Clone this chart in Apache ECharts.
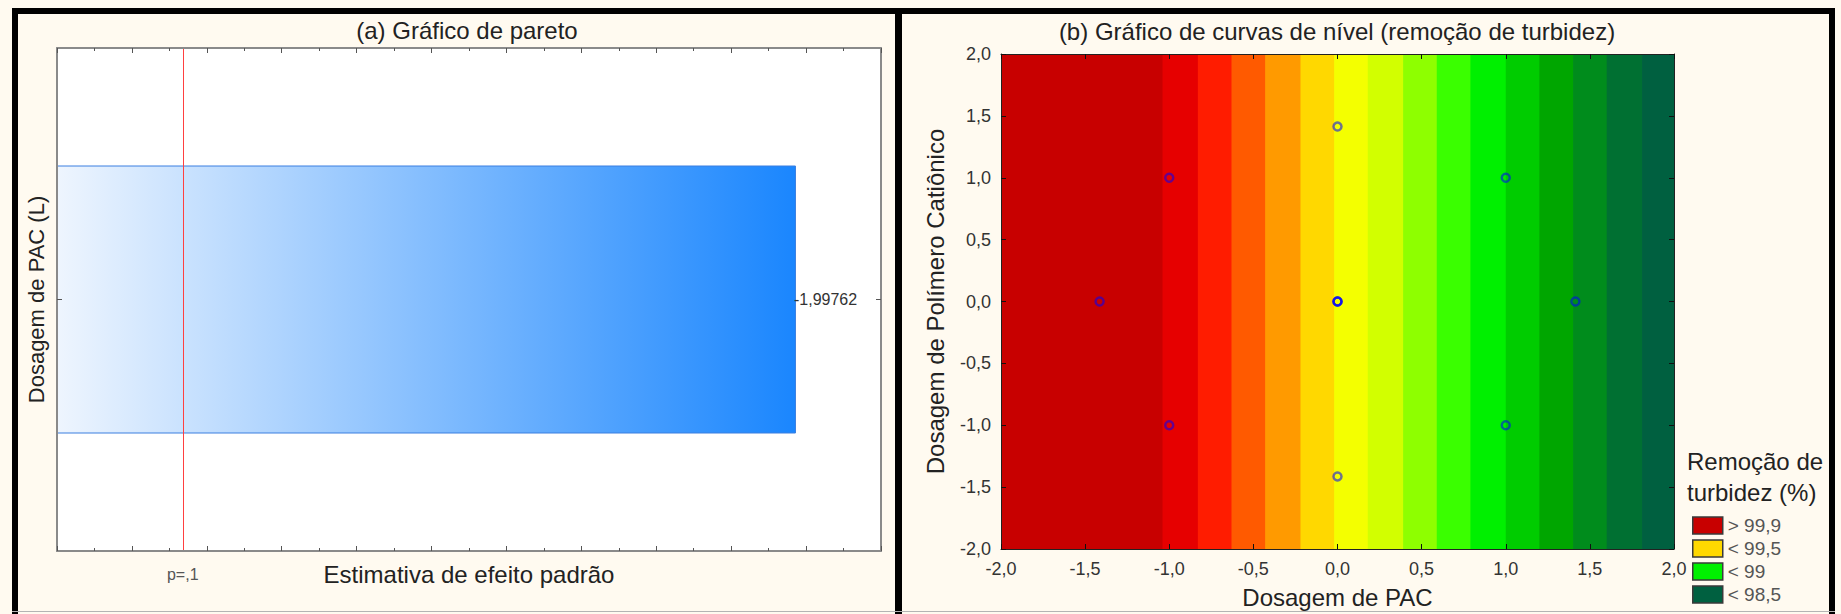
<!DOCTYPE html>
<html>
<head>
<meta charset="utf-8">
<script src="https://cdn.jsdelivr.net/npm/echarts@6/dist/echarts.min.js"></script>
<style>
  html, body { margin: 0; padding: 0; background: #fffaf0; }
  #chart { width: 1841px; height: 614px; }
</style>
</head>
<body>
<div id="chart"></div>
<script>
// ---- (a) Pareto chart of standardized effects ----
const effectNames = ['Dosagem de PAC (L)'];
const effectValues = [-1.99762];          // signed effect estimate (bar length = |effect|)
const pCritical = 0.3375;                  // p = 0.1 reference line
const paretoAxisMax = 2.2275;
const paretoAxisStep = 0.2025;

// ---- (b) contour plot of turbidity removal ----
const bandEdges = [-2.0, -1.04, -0.83, -0.63, -0.43, -0.22, -0.02, 0.18, 0.39, 0.59, 0.79, 1.00, 1.20, 1.40, 1.60, 1.81, 2.0];
const bandLevels = ['> 99,9', '< 99,9', '< 99,8', '< 99,7', '< 99,6', '< 99,5', '< 99,4', '< 99,3',
                    '< 99,2', '< 99,1', '< 99', '< 98,9', '< 98,8', '< 98,7', '< 98,6', '< 98,5'];
const bandColors = ['#c80000', '#e60000', '#ff1c00', '#ff5a00', '#ff9a00', '#ffd800', '#f4ff00', '#d2ff00',
                    '#8eff00', '#3aff00', '#00f000', '#00cc00', '#00a600', '#008c1c', '#007032', '#006040'];
const legendLevels = ['> 99,9', '< 99,5', '< 99', '< 98,5'];
const designPAC     = [-1, 1, -1, 1, -1.414, 1.414, 0, 0, 0, 0, 0];
const designPolymer = [-1, -1, 1, 1, 0, 0, -1.414, 1.414, 0, 0, 0];
const contourMin = -2, contourMax = 2, contourStep = 0.5;

const FONT = "'Liberation Sans', Arial, sans-serif";
const comma = (v, d) => v.toFixed(d).replace('.', ',');

const bandData = bandColors.map((c, i) => [bandEdges[i], bandEdges[i + 1], contourMin, contourMax]);
const pointData = designPAC.map((x, i) => [x, designPolymer[i]]);

const paretoX = (pos, extra) => Object.assign({
  type: 'value', gridIndex: 0, position: pos,
  min: 0, max: paretoAxisMax, interval: paretoAxisStep,
  axisLine: { show: true, onZero: false, lineStyle: { color: '#8a8a8a', width: 2 } },
  axisTick: { show: true, inside: true, length: 5, lineStyle: { color: '#555' } },
  minorTick: { show: true, splitNumber: 2, length: 3, lineStyle: { color: '#555' } },
  axisLabel: { show: false },
  splitLine: { show: false },
  z: 6
}, extra || {});

const paretoY = (pos, extra) => Object.assign({
  type: 'category', gridIndex: 0, position: pos, data: effectNames,
  axisLine: { show: true, onZero: false, lineStyle: { color: '#8a8a8a', width: 2 } },
  axisTick: { show: true, inside: true, alignWithLabel: true, length: 5, lineStyle: { color: '#555' } },
  axisLabel: { show: false },
  splitLine: { show: false },
  z: 6
}, extra || {});

const contourX = (pos, extra) => Object.assign({
  type: 'value', gridIndex: 1, position: pos,
  min: contourMin, max: contourMax, interval: contourStep,
  axisLine: { show: true, onZero: false, lineStyle: { color: '#222', width: 1 } },
  axisTick: { show: true, inside: true, length: 5, lineStyle: { color: '#111' } },
  axisLabel: { show: false },
  splitLine: { show: false },
  z: 6
}, extra || {});

const contourY = (pos, extra) => Object.assign({
  type: 'value', gridIndex: 1, position: pos,
  min: contourMin, max: contourMax, interval: contourStep,
  axisLine: { show: true, onZero: false, lineStyle: { color: '#222', width: 1 } },
  axisTick: { show: true, inside: true, length: 5, lineStyle: { color: '#111' } },
  axisLabel: { show: false },
  splitLine: { show: false },
  z: 6
}, extra || {});

const tickLabel = {
  show: true, fontFamily: FONT, fontSize: 18, color: '#333',
  formatter: v => comma(v, 1)
};

const option = {
  backgroundColor: '#fffaf0',
  animation: false,
  textStyle: { fontFamily: FONT },
  grid: [
    { left: 57, top: 48, width: 824, height: 503, show: true, backgroundColor: '#ffffff', borderWidth: 0 },
    { left: 1001, top: 54, width: 673, height: 497, show: false }
  ],
  xAxis: [
    paretoX('bottom', {
      name: 'Estimativa de efeito padrão', nameLocation: 'middle', nameGap: 11,
      nameTextStyle: { fontFamily: FONT, fontSize: 24, color: '#222' }
    }),
    paretoX('top'),
    contourX('bottom', {
      axisLabel: Object.assign({ margin: 11 }, tickLabel),
      name: 'Dosagem de PAC', nameLocation: 'middle', nameGap: 36,
      nameTextStyle: { fontFamily: FONT, fontSize: 24, color: '#222' }
    }),
    contourX('top')
  ],
  yAxis: [
    paretoY('left', {
      axisLabel: { show: true, rotate: 90, margin: 10, fontFamily: FONT, fontSize: 22, color: '#222' }
    }),
    paretoY('right'),
    contourY('left', {
      axisLabel: Object.assign({ margin: 10 }, tickLabel),
      name: 'Dosagem de Polímero Catiônico', nameLocation: 'middle', nameGap: 54, nameRotate: 90,
      nameTextStyle: { fontFamily: FONT, fontSize: 24, color: '#222' }
    }),
    contourY('right')
  ],
  legend: {
    orient: 'vertical', left: 1692, top: 516, padding: 0,
    itemWidth: 30, itemHeight: 17, itemGap: 4,
    icon: 'rect',
    selectedMode: false,
    itemStyle: { borderColor: '#3a3a3a', borderWidth: 1.5, opacity: 1 },
    textStyle: { fontFamily: FONT, fontSize: 19, lineHeight: 17, color: '#555' },
    data: legendLevels
  },
  graphic: [
    { type: 'rect', silent: true, z: 100,
      shape: { x: 15, y: 11, width: 1817, height: 640 },
      style: { fill: 'none', stroke: '#000', lineWidth: 6 } },
    { type: 'rect', silent: true, z: 100,
      shape: { x: 895, y: 8, width: 7, height: 610 },
      style: { fill: '#000' } },
    { type: 'rect', silent: true, z: 101,
      shape: { x: 12, y: 611, width: 1823, height: 1 },
      style: { fill: '#b4b4b4' } },
    { type: 'text', silent: true, z: 100,
      style: { text: '(a) Gráfico de pareto', x: 467, y: 30, font: '24px ' + FONT, fill: '#222',
               align: 'center', verticalAlign: 'middle', textAlign: 'center', textVerticalAlign: 'middle' } },
    { type: 'text', silent: true, z: 100,
      style: { text: '(b) Gráfico de curvas de nível (remoção de turbidez)', x: 1337, y: 31, font: '24px ' + FONT, fill: '#222',
               align: 'center', verticalAlign: 'middle', textAlign: 'center', textVerticalAlign: 'middle' } },
    { type: 'text', silent: true, z: 100,
      style: { text: 'Remoção de\nturbidez (%)', x: 1687, y: 446, font: '24px ' + FONT, fill: '#222',
               lineHeight: 31, align: 'left', verticalAlign: 'top', textAlign: 'left', textVerticalAlign: 'top' } }
  ],
  series: [
    {
      name: 'Efeito', type: 'bar', xAxisIndex: 0, yAxisIndex: 0, z: 3,
      barWidth: 268,
      data: effectValues.map(Math.abs),
      itemStyle: {
        color: new echarts.graphic.LinearGradient(0, 0, 1, 0, [
          { offset: 0, color: '#eef5fe' },
          { offset: 1, color: '#1a86fe' }
        ]),
        borderColor: '#3b7fe0', borderWidth: 1
      },
      label: {
        show: true, position: 'right', distance: -2,
        fontFamily: FONT, fontSize: 16, color: '#333',
        formatter: p => comma(effectValues[p.dataIndex], 5)
      },
      markLine: {
        silent: true, symbol: 'none', animation: false,
        lineStyle: { color: '#ff4040', width: 1, type: 'solid' },
        label: { show: true, position: 'start', distance: 15, formatter: 'p=,1',
                 fontFamily: FONT, fontSize: 16, color: '#555' },
        emphasis: { disabled: true },
        data: [{ xAxis: pCritical }]
      }
    },
    {
      name: 'bands', type: 'custom', xAxisIndex: 2, yAxisIndex: 2, z: 1, silent: true,
      encode: { x: [0, 1], y: [2, 3] },
      data: bandData,
      renderItem: (params, api) => {
        const p0 = api.coord([api.value(0), api.value(3)]);
        const p1 = api.coord([api.value(1), api.value(2)]);
        const last = params.dataIndex === bandData.length - 1;
        return {
          type: 'rect',
          shape: { x: p0[0], y: p0[1], width: p1[0] - p0[0] + (last ? 0 : 0.8), height: p1[1] - p0[1] },
          style: { fill: bandColors[params.dataIndex] }
        };
      }
    },
    {
      name: 'Ensaios', type: 'scatter', xAxisIndex: 2, yAxisIndex: 2, z: 4, silent: true,
      symbol: 'circle', symbolSize: 8,
      data: pointData,
      itemStyle: { color: 'rgba(0,0,0,0)', borderColor: 'rgba(0,0,255,0.55)', borderWidth: 2.5, opacity: 1 }
    },
    ...legendLevels.map(lv => ({
      name: lv, type: 'scatter', xAxisIndex: 2, yAxisIndex: 2, data: [],
      itemStyle: { color: bandColors[bandLevels.indexOf(lv)], opacity: 1 }
    }))
  ]
};

const chart = echarts.init(document.getElementById('chart'), null, { renderer: 'svg' });
chart.setOption(option);
</script>
</body>
</html>
